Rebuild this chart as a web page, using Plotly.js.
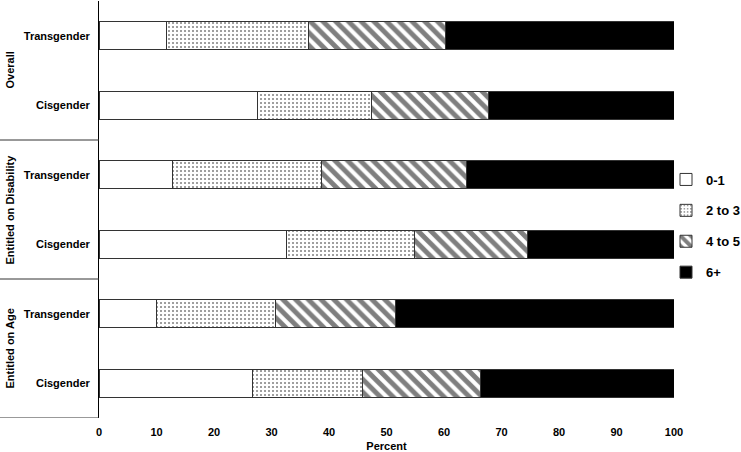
<!DOCTYPE html>
<html>
<head>
<meta charset="utf-8">
<script src="https://cdn.plot.ly/plotly-3.0.1.min.js"></script>
<style>
  html, body { margin: 0; padding: 0; background: #fff; }
  #chart { width: 741px; height: 452px; }
</style>
</head>
<body>
<div id="chart"></div>
<script>
  // rows top to bottom
  const groups = ["Overall", "Entitled on Disability", "Entitled on Age"];
  const rowLabels = ["Transgender", "Cisgender", "Transgender", "Cisgender", "Transgender", "Cisgender"];
  const rowIndex = [0, 1, 2, 3, 4, 5];

  // percent shares per row
  const seriesNames = ["0-1", "2 to 3", "4 to 5", "6+"];
  const v01 = [11.8, 27.6, 12.8, 32.6, 10.0, 26.7];
  const v23 = [24.6, 19.8, 25.9, 22.2, 20.7, 19.2];
  const v45 = [23.9, 20.4, 25.2, 19.7, 20.8, 20.5];
  const v6p = [39.7, 32.2, 36.1, 25.5, 48.5, 33.6];

  const xTicks = [0, 10, 20, 30, 40, 50, 60, 70, 80, 90, 100];

  const font = { family: "Liberation Sans, Arial, sans-serif", size: 11, color: "#000", weight: "bold" };
  const outline = { color: "#333", width: 1 };

  function bar(name, vals, marker) {
    return {
      type: "bar",
      orientation: "h",
      name: name,
      x: vals,
      y: rowIndex,
      width: 0.4,
      legendgroup: name,
      hoverinfo: "x+name",
      marker: Object.assign({ line: outline }, marker)
    };
  }

  const data = [
    bar(seriesNames[0], v01, { color: "#fff" }),
    bar(seriesNames[1], v23, { color: "#fff", pattern: { shape: ".", size: 4, solidity: 0.2, fgcolor: "#000", bgcolor: "#fff", fillmode: "overlay" } }),
    bar(seriesNames[2], v45, { color: "#fff", pattern: { shape: "\\", size: 9, solidity: 0.55, fgcolor: "#000", bgcolor: "#fff", fillmode: "overlay" } }),
    bar(seriesNames[3], v6p, { color: "#000" })
  ];

  // group boxes on the left of the y axis
  const plotLeft = 99, plotW = 741 - 99 - 67;
  const leftEdge = -plotLeft / plotW;
  const shapes = [];
  const annotations = [];
  groups.forEach(function (g, i) {
    const bottom = i * 2 + 1.5;
    shapes.push({
      type: "line", xref: "paper", yref: "y",
      x0: leftEdge, x1: 0, y0: bottom, y1: bottom,
      line: { color: "#333", width: 1 }
    });
    annotations.push({
      xref: "paper", yref: "y",
      x: leftEdge, xanchor: "left", xshift: 1,
      y: i * 2 + 0.5,
      text: g, textangle: -90, showarrow: false,
      font: font
    });
  });

  const layout = {
    width: 741,
    height: 452,
    margin: { l: 99, r: 67, t: 1, b: 34, autoexpand: false },
    paper_bgcolor: "#fff",
    plot_bgcolor: "#fff",
    font: font,
    barmode: "stack",
    showlegend: true,
    legend: {
      xref: "container", yref: "container",
      x: 666 / 741, xanchor: "left",
      y: 0.5, yanchor: "middle",
      bgcolor: "rgba(0,0,0,0)",
      traceorder: "grouped",
      tracegroupgap: 11,
      font: Object.assign({}, font, { size: 13 }),
      itemwidth: 30
    },
    xaxis: {
      range: [0, 100],
      tickvals: xTicks,
      ticktext: xTicks.map(String),
      showgrid: false,
      zeroline: false,
      showline: false,
      ticks: "",
      ticklabelstandoff: 6,
      tickfont: font,
      title: { text: "Percent", font: font, standoff: 5 }
    },
    yaxis: {
      range: [5.5, -0.5],
      tickvals: rowIndex,
      ticktext: rowLabels,
      showgrid: false,
      zeroline: false,
      showline: true,
      linecolor: "#000",
      linewidth: 1,
      ticks: "",
      ticklabelstandoff: 6,
      tickfont: font
    },
    shapes: shapes,
    annotations: annotations
  };

  Plotly.newPlot("chart", data, layout, { displayModeBar: false, staticPlot: true });
</script>
</body>
</html>
